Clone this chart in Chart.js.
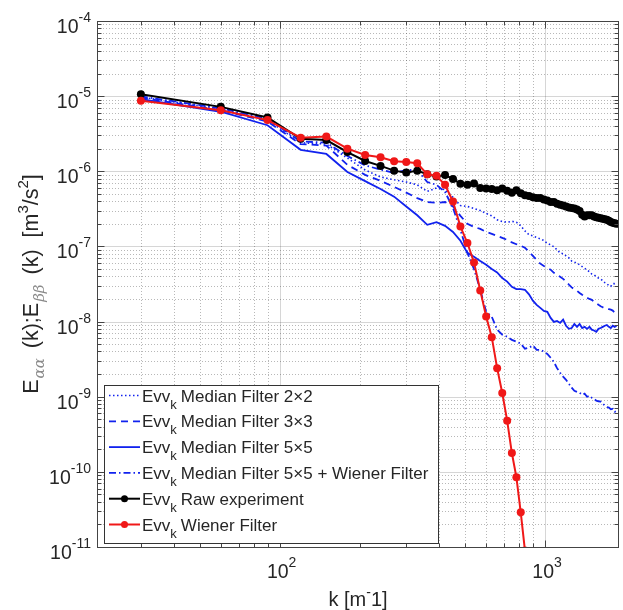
<!DOCTYPE html>
<html>
<head>
<meta charset="utf-8">
<script src="https://cdn.jsdelivr.net/npm/chart.js@4.4.1/dist/chart.umd.min.js"></script>
<style>
  html, body { margin: 0; padding: 0; background: #fff; }
  #wrap { width: 623px; height: 610px; }
</style>
</head>
<body>
<div id="wrap"><canvas id="spectrumChart"></canvas></div>
<script>
// wavenumbers k [1/m]
const kValues = [30, 60, 90, 120, 150, 180, 210, 240, 270, 300, 330, 360, 390, 420, 450, 480, 510, 540, 570, 600,
  630, 660, 690, 720, 750, 780, 810, 840, 870, 900, 930, 960, 990, 1020, 1050, 1080, 1110, 1140, 1170, 1200,
  1230, 1260, 1290, 1320, 1350, 1380, 1410, 1440, 1470, 1500, 1530, 1560, 1590, 1620, 1650, 1680, 1710, 1740,
  1770, 1800, 1830, 1860];

// spectra E(k) [m^3/s^2]
const median2x2 = [9.7e-6, 6.8e-6, 4.8e-6, 2.4e-6, 2.3e-6, 1.5e-6, 1.04e-6, 8.4e-7, 7.7e-7, 7.2e-7, 6.6e-7, 5.4e-7,
  6.0e-7, 5.7e-7, 4.5e-7, 3.5e-7, 3.4e-7, 3.2e-7, 3.0e-7, 2.75e-7, 2.55e-7, 2.26e-7, 2.14e-7, 2.1e-7, 2.16e-7,
  2.1e-7, 1.88e-7, 1.61e-7, 1.43e-7, 1.38e-7, 1.32e-7, 1.26e-7, 1.2e-7, 1.1e-7, 1.05e-7, 9.9e-8, 9.0e-8, 8.2e-8,
  8.0e-8, 7.5e-8, 7.05e-8, 6.4e-8, 6.2e-8, 5.96e-8, 5.7e-8, 5.4e-8, 5.1e-8, 4.9e-8, 4.6e-8, 4.3e-8, 4.2e-8,
  3.95e-8, 3.8e-8, 3.7e-8, 3.5e-8, 3.3e-8, 3.2e-8, 3.0e-8, 2.95e-8, 3.2e-8, 3.2e-8, 3.3e-8];

const median3x3 = [9.5e-6, 6.5e-6, 4.6e-6, 2.3e-6, 2.2e-6, 1.22e-6, 8.95e-7, 7.45e-7, 6.2e-7, 5.2e-7, 4.4e-7, 3.9e-7,
  3.8e-7, 3.9e-7, 3.4e-7, 2.55e-7, 2.0e-7, 1.82e-7, 1.71e-7, 1.56e-7, 1.47e-7, 1.38e-7, 1.3e-7, 1.22e-7, 1.13e-7,
  1.07e-7, 1.02e-7, 9.6e-8, 8.5e-8, 7.5e-8, 6.6e-8, 5.9e-8, 5.5e-8, 5.2e-8, 4.9e-8, 4.45e-8, 4.2e-8, 3.95e-8,
  3.7e-8, 3.4e-8, 3.1e-8, 2.85e-8, 2.7e-8, 2.57e-8, 2.4e-8, 2.27e-8, 2.17e-8, 2.07e-8, 2.0e-8, 1.95e-8, 1.83e-8,
  1.75e-8, 1.67e-8, 1.6e-8, 1.55e-8, 1.5e-8, 1.48e-8, 1.46e-8, 1.44e-8, 1.4e-8, 1.31e-8, 1.23e-8];

const median5x5 = [9.1e-6, 6.2e-6, 4.1e-6, 1.93e-6, 1.7e-6, 9.8e-7, 7.4e-7, 5.8e-7, 4.6e-7, 3.4e-7, 2.6e-7, 1.94e-7,
  2.1e-7, 1.88e-7, 1.56e-7, 1.19e-7, 8.2e-8, 7.3e-8, 6.4e-8, 5.7e-8, 5.0e-8, 4.5e-8, 3.8e-8, 3.4e-8, 2.9e-8,
  2.7e-8, 2.7e-8, 2.65e-8, 2.3e-8, 1.9e-8, 1.67e-8, 1.52e-8, 1.39e-8, 1.35e-8, 1.12e-8, 9.9e-9, 1.02e-8, 9.6e-9,
  1.06e-8, 8.8e-9, 8.0e-9, 8.2e-9, 9.3e-9, 8.5e-9, 9.3e-9, 8.2e-9, 8.5e-9, 8.0e-9, 8.5e-9, 7.8e-9, 7.6e-9,
  7.3e-9, 8.0e-9, 8.2e-9, 8.5e-9, 8.8e-9, 9.0e-9, 8.5e-9, 8.2e-9, 8.8e-9, 8.5e-9, 8.8e-9];

const median5x5Wiener = [9.9e-6, 6.9e-6, 5.0e-6, 2.5e-6, 2.4e-6, 1.6e-6, 1.2e-6, 1.05e-6, 9.5e-7, 1.04e-6, 1.04e-6,
  7.2e-7, 6.6e-7, 5.3e-7, 3.26e-7, 1.66e-7, 8.2e-8, 5.0e-8, 2.65e-8, 1.35e-8, 1.16e-8, 7.8e-9, 6.7e-9, 6.3e-9,
  5.7e-9, 5.4e-9, 5.1e-9, 4.35e-9, 4.5e-9, 4.8e-9, 4.2e-9, 4.2e-9, 4.0e-9, 3.7e-9, 3.3e-9, 2.9e-9, 2.4e-9,
  2.08e-9, 1.85e-9, 1.68e-9, 1.49e-9, 1.32e-9, 1.2e-9, 1.16e-9, 1.13e-9, 1.06e-9, 1.1e-9, 1.0e-9, 1.03e-9,
  9.7e-10, 9.4e-10, 8.85e-10, 8.7e-10, 8.6e-10, 8.1e-10, 7.6e-10, 7.3e-10, 7.15e-10, 6.8e-10, 6.9e-10, 6.3e-10,
  6.4e-10];

const rawExperiment = [1.06e-5, 7.2e-6, 5.2e-6, 2.7e-6, 2.6e-6, 1.8e-6, 1.37e-6, 1.18e-6, 1.02e-6, 9.6e-7, 1.02e-6,
  9.1e-7, 8.5e-7, 8.9e-7, 7.9e-7, 6.8e-7, 6.6e-7, 6.9e-7, 6.0e-7, 5.9e-7, 5.8e-7, 5.6e-7, 5.9e-7, 5.5e-7, 5.2e-7,
  5.6e-7, 5.1e-7, 4.8e-7, 4.7e-7, 4.5e-7, 4.4e-7, 4.4e-7, 4.2e-7, 4.1e-7, 3.9e-7, 3.9e-7, 3.7e-7, 3.6e-7, 3.5e-7,
  3.4e-7, 3.3e-7, 3.25e-7, 3.2e-7, 3.1e-7, 2.97e-7, 2.63e-7, 2.5e-7, 2.6e-7, 2.6e-7, 2.6e-7, 2.5e-7, 2.44e-7,
  2.4e-7, 2.37e-7, 2.33e-7, 2.3e-7, 2.26e-7, 2.19e-7, 2.12e-7, 2.06e-7, 2.03e-7, 2.0e-7];

const wienerFilter = [8.7e-6, 6.5e-6, 4.8e-6, 2.8e-6, 2.9e-6, 2.0e-6, 1.65e-6, 1.54e-6, 1.36e-6, 1.33e-6, 1.28e-6,
  9.1e-7, 8.7e-7, 6.6e-7, 3.95e-7, 1.84e-7, 1.11e-7, 6.1e-8, 2.6e-8, 1.17e-8, 6.2e-9, 2.4e-9, 1.12e-9, 4.8e-10,
  1.78e-10, 8.5e-11, 2.9e-11, 9e-12];

const legendLabels = ['Median Filter 2\u00d72', 'Median Filter 3\u00d73', 'Median Filter 5\u00d75',
  'Median Filter 5\u00d75 + Wiener Filter', 'Raw experiment', 'Wiener Filter'];
const xTickExponents = [2, 3];
const yTickExponents = [-4, -5, -6, -7, -8, -9, -10, -11];

const BLUE = '#1122ee';
const RED = '#f01818';
const TEXT = '#262626';
const FONT = '"Liberation Sans", Arial, sans-serif';

function toPoints(values) {
  return values.map((v, i) => ({ x: kValues[i], y: v }));
}

const lineStyles = [
  { color: BLUE, dash: [1.5, 2.5], width: 1.6, marker: false },
  { color: BLUE, dash: [7, 5], width: 1.8, marker: false },
  { color: BLUE, dash: [], width: 1.8, marker: false },
  { color: BLUE, dash: [7, 3, 1.5, 3], width: 1.8, marker: false },
  { color: '#000', dash: [], width: 2, marker: true },
  { color: RED, dash: [], width: 2, marker: true }
];
const seriesValues = [median2x2, median3x3, median5x5, median5x5Wiener, rawExperiment, wienerFilter];
const drawOrder = [5, 4, 3, 2, 1, 0];

const datasets = seriesValues.map((vals, i) => ({
  label: 'Evv_k ' + legendLabels[i],
  data: toPoints(vals),
  borderColor: lineStyles[i].color,
  backgroundColor: lineStyles[i].color,
  borderWidth: lineStyles[i].width,
  borderDash: lineStyles[i].dash,
  pointRadius: lineStyles[i].marker ? 4 : 0,
  pointBorderWidth: 0,
  tension: 0,
  order: drawOrder[i]
}));

// draws text runs with sub/superscripts; returns total width
function richText(ctx, parts, x, y, measureOnly) {
  let cx = x;
  for (const p of parts) {
    ctx.font = p.font;
    const w = ctx.measureText(p.t).width;
    if (!measureOnly) {
      ctx.fillStyle = p.color || TEXT;
      ctx.fillText(p.t, cx, y + (p.dy || 0));
    }
    cx += w + (p.gap || 0);
  }
  return cx - x;
}

function powerParts(exp) {
  return [
    { t: '10', font: '19.5px ' + FONT },
    { t: String(exp), font: '14px ' + FONT, dy: -11 }
  ];
}

const axesDecor = {
  id: 'axesDecor',
  beforeDatasetsDraw(chart) {
    const { ctx, chartArea: a, scales: { x, y } } = chart;
    ctx.save();
    ctx.beginPath();
    ctx.rect(a.left, a.top, a.right - a.left, a.bottom - a.top);
    ctx.clip();
    ctx.lineWidth = 1;
    // minor grid, dotted
    ctx.strokeStyle = 'rgba(0,0,0,0.28)';
    ctx.setLineDash([1, 2]);
    for (let e = 1; e <= 3; e++) {
      for (let m = 2; m <= 9; m++) {
        const px = Math.round(x.getPixelForValue(m * Math.pow(10, e))) + 0.5;
        ctx.beginPath(); ctx.moveTo(px, a.top); ctx.lineTo(px, a.bottom); ctx.stroke();
      }
    }
    for (let e = -11; e <= -5; e++) {
      for (let m = 2; m <= 9; m++) {
        const py = Math.round(y.getPixelForValue(m * Math.pow(10, e))) + 0.5;
        ctx.beginPath(); ctx.moveTo(a.left, py); ctx.lineTo(a.right, py); ctx.stroke();
      }
    }
    // major grid, solid
    ctx.setLineDash([]);
    ctx.strokeStyle = 'rgba(0,0,0,0.16)';
    xTickExponents.forEach(e => {
      const px = Math.round(x.getPixelForValue(Math.pow(10, e))) + 0.5;
      ctx.beginPath(); ctx.moveTo(px, a.top); ctx.lineTo(px, a.bottom); ctx.stroke();
    });
    yTickExponents.forEach(e => {
      const py = Math.round(y.getPixelForValue(Math.pow(10, e))) + 0.5;
      ctx.beginPath(); ctx.moveTo(a.left, py); ctx.lineTo(a.right, py); ctx.stroke();
    });
    ctx.restore();
  },
  afterDatasetsDraw(chart) {
    const { ctx, chartArea: a, scales: { x, y } } = chart;
    ctx.save();
    // frame and inward ticks on all sides
    ctx.strokeStyle = '#444';
    ctx.lineWidth = 1;
    const L = Math.round(a.left) + 0.5, R = Math.round(a.right) - 0.5;
    const T = Math.round(a.top) + 0.5, B = Math.round(a.bottom) + 0.5;
    ctx.strokeRect(L, T, R - L, B - T);
    ctx.beginPath();
    for (let e = 1; e <= 3; e++) {
      for (let m = 1; m <= 9; m++) {
        const v = m * Math.pow(10, e);
        if (v < x.min || v > x.max) continue;
        const px = Math.round(x.getPixelForValue(v)) + 0.5;
        const len = m === 1 ? 7 : 4;
        ctx.moveTo(px, B); ctx.lineTo(px, B - len);
        ctx.moveTo(px, T); ctx.lineTo(px, T + len);
      }
    }
    for (let e = -11; e <= -4; e++) {
      for (let m = 1; m <= 9; m++) {
        const v = m * Math.pow(10, e);
        if (v < y.min * 0.999 || v > y.max * 1.001) continue;
        const py = Math.round(y.getPixelForValue(v)) + 0.5;
        const len = m === 1 ? 7 : 4;
        ctx.moveTo(L, py); ctx.lineTo(L + len, py);
        ctx.moveTo(R, py); ctx.lineTo(R - len, py);
      }
    }
    ctx.stroke();

    // tick labels
    ctx.textBaseline = 'alphabetic';
    ctx.textAlign = 'left';
    yTickExponents.forEach(e => {
      const py = y.getPixelForValue(Math.pow(10, e));
      const parts = powerParts(e);
      const w = richText(ctx, parts, 0, 0, true);
      richText(ctx, parts, 91 - w, py + 12);
    });
    xTickExponents.forEach(e => {
      const px = x.getPixelForValue(Math.pow(10, e));
      const parts = powerParts(e);
      const w = richText(ctx, parts, 0, 0, true);
      richText(ctx, parts, px - w / 2 + 2, 578);
    });

    // x axis title
    const xt = [
      { t: 'k [m', font: '20px ' + FONT },
      { t: '-', font: '14px ' + FONT, dy: -9 },
      { t: '1]', font: '20px ' + FONT }
    ];
    const xw = richText(ctx, xt, 0, 0, true);
    richText(ctx, xt, (a.left + a.right) / 2 - xw / 2, 606);

    // y axis title, rotated
    const sub = 'italic 15px "DejaVu Serif", serif';
    const yt = [
      { t: 'E', font: '21.5px ' + FONT, gap: 1 },
      { t: '\u03b1\u03b1', font: sub, dy: 6, color: '#8a8a8a', gap: 4 },
      { t: ' (k);E', font: '21.5px ' + FONT, gap: 1 },
      { t: '\u03b2\u03b2', font: sub, dy: 6, color: '#8a8a8a', gap: 4 },
      { t: ' (k)  [m', font: '21.5px ' + FONT },
      { t: '3', font: '15px ' + FONT, dy: -10 },
      { t: '/s', font: '21.5px ' + FONT },
      { t: '2', font: '15px ' + FONT, dy: -10 },
      { t: ']', font: '21.5px ' + FONT }
    ];
    const yw = richText(ctx, yt, 0, 0, true);
    ctx.save();
    ctx.translate(38, (a.top + a.bottom) / 2);
    ctx.rotate(-Math.PI / 2);
    richText(ctx, yt, -yw / 2, 0);
    ctx.restore();

    // legend
    const lx = 104.5, ly = 385.5, lw = 334, lh = 158;
    ctx.fillStyle = '#fff';
    ctx.fillRect(lx, ly, lw, lh);
    ctx.strokeStyle = '#333';
    ctx.lineWidth = 1;
    ctx.strokeRect(lx, ly, lw, lh);
    legendLabels.forEach((label, i) => {
      const st = lineStyles[i];
      const ry = 395.5 + i * 25.8;
      ctx.save();
      ctx.strokeStyle = st.color;
      ctx.lineWidth = st.width;
      ctx.setLineDash(st.dash);
      ctx.beginPath(); ctx.moveTo(109, ry); ctx.lineTo(140, ry); ctx.stroke();
      if (st.marker) {
        ctx.fillStyle = st.color;
        ctx.beginPath(); ctx.arc(124.5, ry, 3.5, 0, Math.PI * 2); ctx.fill();
      }
      ctx.restore();
      richText(ctx, [
        { t: 'Evv', font: '17px ' + FONT },
        { t: 'k', font: '13px ' + FONT, dy: 7, gap: 4 },
        { t: label, font: '17px ' + FONT }
      ], 142, ry + 6);
    });
    ctx.restore();
  }
};

new Chart(document.getElementById('spectrumChart'), {
  type: 'line',
  data: { datasets },
  options: {
    responsive: true,
    maintainAspectRatio: false,
    animation: false,
    events: [],
    layout: { padding: { left: 97, top: 21, right: 1, bottom: 63 } },
    plugins: { legend: { display: false }, tooltip: { enabled: false } },
    scales: {
      x: { type: 'logarithmic', min: 20.5, max: 1900, display: false },
      y: { type: 'logarithmic', min: 1e-11, max: 1e-4, display: false }
    }
  },
  plugins: [axesDecor]
});
</script>
</body>
</html>
